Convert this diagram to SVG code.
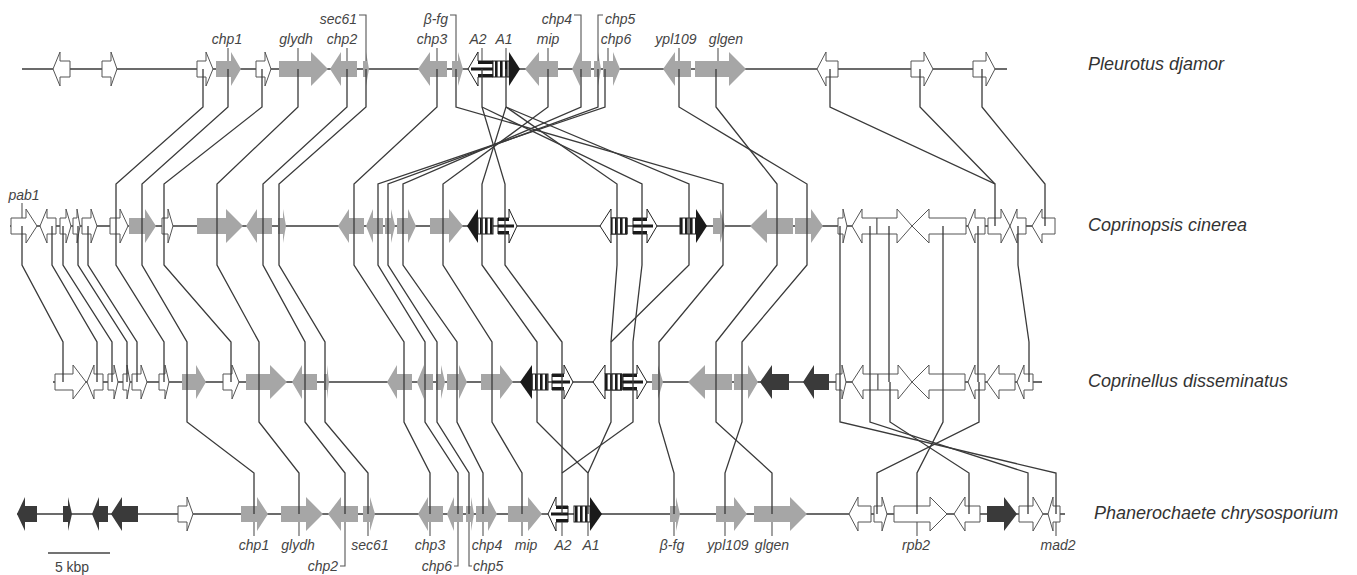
<svg xmlns="http://www.w3.org/2000/svg" width="1357" height="575" viewBox="0 0 1357 575">
<style>
.w{fill:#fff;stroke:#555;stroke-width:1}
.g{fill:#a6a6a6}
.d{fill:#3a3a3a}
.k{fill:#1a1a1a}
.aw{fill:#fff;stroke:#222;stroke-width:1}
.av{fill:url(#vs);stroke:#222;stroke-width:1}
.bb{stroke:#3a3a3a;stroke-width:1.6;fill:none}
.cn{fill:none;stroke:#3a3a3a;stroke-width:1.3}
.tk{fill:none;stroke:#555;stroke-width:1.1}
.lb{font-family:"Liberation Sans",Arial,sans-serif;font-style:italic;font-size:14px;fill:#444}
.sp{font-family:"Liberation Sans",Arial,sans-serif;font-style:italic;font-size:18px;fill:#333}
.sc{font-family:"Liberation Sans",Arial,sans-serif;font-size:14px;fill:#444}
</style>
<defs>
<pattern id="vs" width="5" height="20" patternUnits="userSpaceOnUse"><rect width="5" height="20" fill="#fff"/><rect width="2.6" height="20" fill="#1a1a1a"/></pattern>
</defs>
<rect width="1357" height="575" fill="#fff"/>

<g id="backbones">
<line class="bb" x1="22" y1="69" x2="1007" y2="69"/>
<line class="bb" x1="10" y1="226" x2="1055" y2="226"/>
<line class="bb" x1="53" y1="382" x2="1042" y2="382"/>
<line class="bb" x1="17" y1="514" x2="1065" y2="514"/>
</g>

<g id="row1-pleurotus">
<g id="r1-w1"><path class="w" d="M70 61 h-10 v-9 l-7 17 l7 17 v-9 h10 z"/></g>
<g id="r1-w2"><path class="w" d="M102 61 h9 v-9 l6 17 l-6 17 v-9 h-9 z"/></g>
<g id="r1-w3"><path class="w" d="M197 61 h9 v-9 l7 17 l-7 17 v-9 h-9 z"/></g>
<g id="r1-chp1"><path class="g" d="M216 61 h15 v-9 l10 17 l-10 17 v-9 h-15 z"/></g>
<g id="r1-w4"><path class="w" d="M256 61 h9 v-9 l6 17 l-6 17 v-9 h-9 z"/></g>
<g id="r1-glydh"><path class="g" d="M279 61 h32 v-9 l17 17 l-17 17 v-9 h-32 z"/></g>
<g id="r1-chp2"><path class="g" d="M357 61 h-16 v-9 l-11 17 l11 17 v-9 h16 z"/></g>
<g id="r1-sec61"><path class="g" d="M363 61 h3 v-9 l3 17 l-3 17 v-9 h-3 z"/></g>
<g id="r1-chp3"><path class="g" d="M447 61 h-17 v-9 l-12 17 l12 17 v-9 h17 z"/></g>
<g id="r1-bfg"><path class="g" d="M452 61 h6 v-9 l5 17 l-5 17 v-9 h-6 z"/></g>
<g id="r1-A2"><path class="aw" d="M493 61 h-15 v-9 l-10 17 l10 17 v-9 h15 z"/><rect class="k" x="478" y="61" width="15" height="3"/><rect class="k" x="471" y="67.5" width="22" height="3"/><rect class="k" x="478" y="74" width="15" height="3"/></g>
<g id="r1-A1"><rect class="av" x="493" y="61" width="16" height="16"/><path class="k" d="M509 52 l11 17 l-11 17 z"/></g>
<g id="r1-mip"><path class="g" d="M558 61 h-19 v-9 l-14 17 l14 17 v-9 h19 z"/></g>
<g id="r1-chp4"><path class="g" d="M591 61 h-11 v-9 l-8 17 l8 17 v-9 h11 z"/></g>
<g id="r1-chp5"><path class="g" d="M594 61 h4 v-9 l3 17 l-3 17 v-9 h-4 z"/></g>
<g id="r1-chp6"><path class="g" d="M603 61 h10 v-9 l7 17 l-7 17 v-9 h-10 z"/></g>
<g id="r1-ypl109"><path class="g" d="M691 61 h-16 v-9 l-12 17 l12 17 v-9 h16 z"/></g>
<g id="r1-glgen"><path class="g" d="M695 61 h34 v-9 l17 17 l-17 17 v-9 h-34 z"/></g>
<g id="r1-w5"><path class="w" d="M838 61 h-12 v-9 l-9 17 l9 17 v-9 h12 z"/></g>
<g id="r1-w6"><path class="w" d="M911 61 h13 v-9 l9 17 l-9 17 v-9 h-13 z"/></g>
<g id="r1-w7"><path class="w" d="M973 61 h13 v-9 l9 17 l-9 17 v-9 h-13 z"/></g>
</g>

<g id="row2-coprinopsis">
<g id="r2-pab1"><path class="w" d="M11 218 h15 v-9 l11 17 l-11 17 v-9 h-15 z"/></g>
<g id="r2-w2"><path class="w" d="M56 218 h-9 v-9 l-7 17 l7 17 v-9 h9 z"/></g>
<g id="r2-w3"><path class="w" d="M60 218 h6 v-9 l5 17 l-5 17 v-9 h-6 z"/></g>
<g id="r2-w4"><path class="w" d="M73 218 h4 v-9 l3 17 l-3 17 v-9 h-4 z"/></g>
<g id="r2-w5"><path class="w" d="M82 218 h9 v-9 l6 17 l-6 17 v-9 h-9 z"/></g>
<g id="r2-w6"><path class="w" d="M110 218 h10 v-9 l8 17 l-8 17 v-9 h-10 z"/></g>
<g id="r2-chp1"><path class="g" d="M129 218 h16 v-9 l11 17 l-11 17 v-9 h-16 z"/></g>
<g id="r2-w7"><path class="w" d="M162 218 h6 v-9 l5 17 l-5 17 v-9 h-6 z"/></g>
<g id="r2-glydh"><path class="g" d="M197 218 h29 v-9 l17 17 l-17 17 v-9 h-29 z"/></g>
<g id="r2-chp2"><path class="g" d="M272 218 h-15 v-9 l-11 17 l11 17 v-9 h15 z"/></g>
<g id="r2-sec61"><path class="g" d="M278 218 h5 v-9 l3 17 l-3 17 v-9 h-5 z"/></g>
<g id="r2-chp3"><path class="g" d="M364 218 h-15 v-9 l-11 17 l11 17 v-9 h15 z"/></g>
<g id="r2-chp6"><path class="g" d="M383 218 h-10 v-9 l-7 17 l7 17 v-9 h10 z"/></g>
<g id="r2-chp5"><path class="g" d="M385 218 h6 v-9 l4 17 l-4 17 v-9 h-6 z"/></g>
<g id="r2-chp4"><path class="g" d="M397 218 h11 v-9 l8 17 l-8 17 v-9 h-11 z"/></g>
<g id="r2-mip"><path class="g" d="M430 218 h19 v-9 l14 17 l-14 17 v-9 h-19 z"/></g>
<g id="r2-A1a"><path class="k" d="M478 209 l-11 17 l11 17 z"/><rect class="av" x="478" y="218" width="15" height="16"/></g>
<g id="r2-A2a"><path class="aw" d="M498 218 h11 v-9 l8 17 l-8 17 v-9 h-11 z"/><rect class="k" x="498" y="218" width="11" height="3"/><rect class="k" x="498" y="224.5" width="16" height="3"/><rect class="k" x="498" y="231" width="11" height="3"/></g>
<g id="r2-A1b"><path class="aw" d="M627 218 h-16 v-9 l-11 17 l11 17 v-9 h16 z"/><rect class="av" x="611" y="218" width="16" height="16"/></g>
<g id="r2-A2b"><path class="aw" d="M633 218 h14 v-9 l10 17 l-10 17 v-9 h-14 z"/><rect class="k" x="633" y="218" width="14" height="3"/><rect class="k" x="633" y="224.5" width="20" height="3"/><rect class="k" x="633" y="231" width="14" height="3"/></g>
<g id="r2-A1c"><rect class="av" x="680" y="218" width="16" height="16"/><path class="k" d="M696 209 l11 17 l-11 17 z"/></g>
<g id="r2-bfg"><path class="g" d="M713 218 h7 v-9 l5 17 l-5 17 v-9 h-7 z"/></g>
<g id="r2-glgen"><path class="g" d="M793 218 h-26 v-9 l-17 17 l17 17 v-9 h26 z"/></g>
<g id="r2-ypl109"><path class="g" d="M795 218 h16 v-9 l12 17 l-12 17 v-9 h-16 z"/></g>
<g id="r2-w8"><path class="w" d="M838 218 h5 v-9 l4 17 l-4 17 v-9 h-5 z"/></g>
<g id="r2-w9"><path class="w" d="M877 218 h-15 v-9 l-10 17 l10 17 v-9 h15 z"/></g>
<g id="r2-w10"><path class="w" d="M877 218 h20 v-9 l15 17 l-15 17 v-9 h-20 z"/></g>
<g id="r2-w11"><path class="w" d="M966 218 h-37 v-9 l-17 17 l17 17 v-9 h37 z"/></g>
<g id="r2-w12"><path class="w" d="M985 218 h-10 v-9 l-7 17 l7 17 v-9 h10 z"/></g>
<g id="r2-w13"><path class="w" d="M988 218 h13 v-9 l9 17 l-9 17 v-9 h-13 z"/></g>
<g id="r2-w14"><path class="w" d="M1026 218 h-9 v-9 l-7 17 l7 17 v-9 h9 z"/></g>
<g id="r2-w15"><path class="w" d="M1055 218 h-13 v-9 l-10 17 l10 17 v-9 h13 z"/></g>
</g>

<g id="row3-coprinellus">
<g id="r3-w1"><path class="w" d="M55 374 h18 v-9 l13 17 l-13 17 v-9 h-18 z"/></g>
<g id="r3-w2"><path class="w" d="M103 374 h-9 v-9 l-7 17 l7 17 v-9 h9 z"/></g>
<g id="r3-w3"><path class="w" d="M108 374 h6 v-9 l4 17 l-4 17 v-9 h-6 z"/></g>
<g id="r3-w4"><path class="w" d="M123 374 h4 v-9 l3 17 l-3 17 v-9 h-4 z"/></g>
<g id="r3-w5"><path class="w" d="M132 374 h9 v-9 l6 17 l-6 17 v-9 h-9 z"/></g>
<g id="r3-w6"><path class="w" d="M159 374 h6 v-9 l4 17 l-4 17 v-9 h-6 z"/></g>
<g id="r3-chp1"><path class="g" d="M182 374 h14 v-9 l10 17 l-10 17 v-9 h-14 z"/></g>
<g id="r3-w7"><path class="w" d="M223 374 h9 v-9 l7 17 l-7 17 v-9 h-9 z"/></g>
<g id="r3-glydh"><path class="g" d="M246 374 h24 v-9 l17 17 l-17 17 v-9 h-24 z"/></g>
<g id="r3-chp2"><path class="g" d="M317 374 h-15 v-9 l-10 17 l10 17 v-9 h15 z"/></g>
<g id="r3-sec61"><path class="g" d="M324 374 h3 v-9 l2 17 l-2 17 v-9 h-3 z"/></g>
<g id="r3-chp3"><path class="g" d="M412 374 h-15 v-9 l-10 17 l10 17 v-9 h15 z"/></g>
<g id="r3-chp6"><path class="g" d="M433 374 h-9 v-9 l-7 17 l7 17 v-9 h9 z"/></g>
<g id="r3-chp5"><path class="g" d="M436 374 h5 v-9 l4 17 l-4 17 v-9 h-5 z"/></g>
<g id="r3-chp4"><path class="g" d="M447 374 h12 v-9 l8 17 l-8 17 v-9 h-12 z"/></g>
<g id="r3-mip"><path class="g" d="M481 374 h19 v-9 l13 17 l-13 17 v-9 h-19 z"/></g>
<g id="r3-A1a"><path class="k" d="M532 365 l-12 17 l12 17 z"/><rect class="av" x="532" y="374" width="16" height="16"/></g>
<g id="r3-A2a"><path class="aw" d="M552 374 h12 v-9 l9 17 l-9 17 v-9 h-12 z"/><rect class="k" x="552" y="374" width="12" height="3"/><rect class="k" x="552" y="380.5" width="18" height="3"/><rect class="k" x="552" y="387" width="12" height="3"/></g>
<g id="r3-A1b"><path class="aw" d="M622 374 h-17 v-9 l-12 17 l12 17 v-9 h17 z"/><rect class="av" x="605" y="374" width="17" height="16"/></g>
<g id="r3-A2b"><path class="aw" d="M623 374 h14 v-9 l10 17 l-10 17 v-9 h-14 z"/><rect class="k" x="623" y="374" width="14" height="3"/><rect class="k" x="623" y="380.5" width="20" height="3"/><rect class="k" x="623" y="387" width="14" height="3"/></g>
<g id="r3-bfg"><path class="g" d="M652 374 h6 v-9 l5 17 l-5 17 v-9 h-6 z"/></g>
<g id="r3-glgen"><path class="g" d="M732 374 h-27 v-9 l-17 17 l17 17 v-9 h27 z"/></g>
<g id="r3-ypl109"><path class="g" d="M734 374 h14 v-9 l10 17 l-10 17 v-9 h-14 z"/></g>
<g id="r3-d1"><path class="d" d="M789 374 h-17 v-9 l-12 17 l12 17 v-9 h17 z"/></g>
<g id="r3-d2"><path class="d" d="M829 374 h-15 v-9 l-11 17 l11 17 v-9 h15 z"/></g>
<g id="r3-w8"><path class="w" d="M836 374 h6 v-9 l4 17 l-4 17 v-9 h-6 z"/></g>
<g id="r3-w9"><path class="w" d="M878 374 h-15 v-9 l-11 17 l11 17 v-9 h15 z"/></g>
<g id="r3-w10"><path class="w" d="M878 374 h20 v-9 l14 17 l-14 17 v-9 h-20 z"/></g>
<g id="r3-w11"><path class="w" d="M965 374 h-36 v-9 l-17 17 l17 17 v-9 h36 z"/></g>
<g id="r3-w12"><path class="w" d="M985 374 h-10 v-9 l-7 17 l7 17 v-9 h10 z"/></g>
<g id="r3-w13"><path class="w" d="M1015 374 h-16 v-9 l-12 17 l12 17 v-9 h16 z"/></g>
<g id="r3-w14"><path class="w" d="M1033 374 h-9 v-9 l-7 17 l7 17 v-9 h9 z"/></g>
</g>

<g id="row4-phanerochaete">
<g id="r4-d1"><path class="d" d="M37 506 h-12 v-9 l-8 17 l8 17 v-9 h12 z"/></g>
<g id="r4-d2"><path class="d" d="M63 506 h5 v-9 l4 17 l-4 17 v-9 h-5 z"/></g>
<g id="r4-d3"><path class="d" d="M108 506 h-9 v-9 l-7 17 l7 17 v-9 h9 z"/></g>
<g id="r4-d4"><path class="d" d="M138 506 h-16 v-9 l-11 17 l11 17 v-9 h16 z"/></g>
<g id="r4-w1"><path class="w" d="M178 506 h9 v-9 l6 17 l-6 17 v-9 h-9 z"/></g>
<g id="r4-chp1"><path class="g" d="M241 506 h16 v-9 l11 17 l-11 17 v-9 h-16 z"/></g>
<g id="r4-glydh"><path class="g" d="M281 506 h25 v-9 l17 17 l-17 17 v-9 h-25 z"/></g>
<g id="r4-chp2"><path class="g" d="M358 506 h-17 v-9 l-13 17 l13 17 v-9 h17 z"/></g>
<g id="r4-sec61"><path class="g" d="M363 506 h7 v-9 l5 17 l-5 17 v-9 h-7 z"/></g>
<g id="r4-chp3"><path class="g" d="M443 506 h-15 v-9 l-10 17 l10 17 v-9 h15 z"/></g>
<g id="r4-chp6"><path class="g" d="M463 506 h-9 v-9 l-7 17 l7 17 v-9 h9 z"/></g>
<g id="r4-chp5"><path class="g" d="M466 506 h5 v-9 l3 17 l-3 17 v-9 h-5 z"/></g>
<g id="r4-chp4"><path class="g" d="M476 506 h12 v-9 l9 17 l-9 17 v-9 h-12 z"/></g>
<g id="r4-mip"><path class="g" d="M508 506 h20 v-9 l14 17 l-14 17 v-9 h-20 z"/></g>
<g id="r4-A2"><path class="aw" d="M568 506 h-12 v-9 l-8 17 l8 17 v-9 h12 z"/><rect class="k" x="556" y="506" width="12" height="3"/><rect class="k" x="551" y="512.5" width="17" height="3"/><rect class="k" x="556" y="519" width="12" height="3"/></g>
<g id="r4-A1"><rect class="av" x="574" y="506" width="16" height="16"/><path class="k" d="M590 497 l12 17 l-12 17 z"/></g>
<g id="r4-bfg"><path class="g" d="M670 506 h6 v-9 l4 17 l-4 17 v-9 h-6 z"/></g>
<g id="r4-ypl109"><path class="g" d="M716 506 h18 v-9 l13 17 l-13 17 v-9 h-18 z"/></g>
<g id="r4-glgen"><path class="g" d="M754 506 h36 v-9 l17 17 l-17 17 v-9 h-36 z"/></g>
<g id="r4-w2"><path class="w" d="M871 506 h-13 v-9 l-9 17 l9 17 v-9 h13 z"/></g>
<g id="r4-w3"><path class="w" d="M874 506 h8 v-9 l5 17 l-5 17 v-9 h-8 z"/></g>
<g id="r4-rpb2"><path class="w" d="M894 506 h36 v-9 l17 17 l-17 17 v-9 h-36 z"/></g>
<g id="r4-w4"><path class="w" d="M980 506 h-15 v-9 l-11 17 l11 17 v-9 h15 z"/></g>
<g id="r4-d5"><path class="d" d="M987 506 h17 v-9 l13 17 l-13 17 v-9 h-17 z"/></g>
<g id="r4-w5"><path class="w" d="M1019 506 h14 v-9 l10 17 l-10 17 v-9 h-14 z"/></g>
<g id="r4-mad2"><path class="w" d="M1060 506 h-7 v-9 l-5 17 l5 17 v-9 h7 z"/></g>
</g>

<g id="connectors">
<polyline class="cn" points="203,69 203,107 116,184 116,226"/>
<polyline class="cn" points="228,69 228,107 142,184 142,226"/>
<polyline class="cn" points="262,69 262,107 164,184 164,226"/>
<polyline class="cn" points="298,69 298,107 217,184 217,226"/>
<polyline class="cn" points="347,69 347,107 263,184 263,226"/>
<polyline class="cn" points="366,69 366,107 279,184 279,226"/>
<polyline class="cn" points="437,69 437,107 354,184 354,226"/>
<polyline class="cn" points="456,69 456,107 723,184 723,226"/>
<polyline class="cn" points="482,69 482,107 505,184 505,226"/>
<polyline class="cn" points="482,107 642,184 642,226"/>
<polyline class="cn" points="506,69 506,107 482,184 482,226"/>
<polyline class="cn" points="506,107 617,184 617,226"/>
<polyline class="cn" points="506,107 689,184 689,226"/>
<polyline class="cn" points="548,69 548,107 443,184 443,226"/>
<polyline class="cn" points="581,69 581,107 403,184 403,226"/>
<polyline class="cn" points="598,69 598,107 388,184 388,226"/>
<polyline class="cn" points="605,69 605,107 378,184 378,226"/>
<polyline class="cn" points="679,69 679,107 807,184 807,226"/>
<polyline class="cn" points="716,69 716,107 777,184 777,226"/>
<polyline class="cn" points="830,69 830,107 995,184 995,226"/>
<polyline class="cn" points="920,69 920,107 995,184"/>
<polyline class="cn" points="982,69 982,107 1045,184 1045,226"/>

<polyline class="cn" points="22,226 22,265 63,342 63,382"/>
<polyline class="cn" points="52,226 52,265 97,342 97,382"/>
<polyline class="cn" points="63,226 63,265 112,342 112,382"/>
<polyline class="cn" points="78,226 78,265 127,342 127,382"/>
<polyline class="cn" points="88,226 88,265 137,342 137,382"/>
<polyline class="cn" points="116,226 116,265 164,342 164,382"/>
<polyline class="cn" points="142,226 142,265 187,342 187,382"/>
<polyline class="cn" points="164,226 164,265 231,342 231,382"/>
<polyline class="cn" points="217,226 217,265 259,342 259,382"/>
<polyline class="cn" points="263,226 263,265 305,342 305,382"/>
<polyline class="cn" points="279,226 279,265 325,342 325,382"/>
<polyline class="cn" points="354,226 354,265 404,342 404,382"/>
<polyline class="cn" points="378,226 378,265 425,342 425,382"/>
<polyline class="cn" points="388,226 388,265 437,342 437,382"/>
<polyline class="cn" points="403,226 403,265 457,342 457,382"/>
<polyline class="cn" points="443,226 443,265 492,342 492,382"/>
<polyline class="cn" points="482,226 482,265 537,342 537,382"/>
<polyline class="cn" points="505,226 505,265 562,342 562,382"/>
<polyline class="cn" points="617,226 617,265 611,342 611,382"/>
<polyline class="cn" points="642,226 642,265 633,342 633,382"/>
<polyline class="cn" points="689,226 689,265 611,342"/>
<polyline class="cn" points="723,226 723,265 659,342 659,382"/>
<polyline class="cn" points="777,226 777,265 716,342 716,382"/>
<polyline class="cn" points="807,226 807,265 742,342 742,382"/>
<polyline class="cn" points="840,226 840,382"/>
<polyline class="cn" points="870,226 870,382"/>
<polyline class="cn" points="889,226 889,382"/>
<polyline class="cn" points="943,226 943,382"/>
<polyline class="cn" points="978,226 978,382"/>
<polyline class="cn" points="1018,226 1018,265 1029,342 1029,382"/>

<polyline class="cn" points="187,382 187,422 254,473 254,514"/>
<polyline class="cn" points="259,382 259,422 299,473 299,514"/>
<polyline class="cn" points="305,382 305,422 345,473 345,514"/>
<polyline class="cn" points="325,382 325,422 368,473 368,514"/>
<polyline class="cn" points="404,382 404,422 430,473 430,514"/>
<polyline class="cn" points="425,382 425,422 458,473 458,514"/>
<polyline class="cn" points="437,382 437,422 469,473 469,514"/>
<polyline class="cn" points="457,382 457,422 483,473 483,514"/>
<polyline class="cn" points="492,382 492,422 522,473 522,514"/>
<polyline class="cn" points="537,382 537,422 588,473 588,514"/>
<polyline class="cn" points="562,382 562,514"/>
<polyline class="cn" points="611,382 611,422 588,473"/>
<polyline class="cn" points="633,382 633,422 562,473"/>
<polyline class="cn" points="659,382 659,422 674,473 674,514"/>
<polyline class="cn" points="716,382 716,422 772,473 772,514"/>
<polyline class="cn" points="742,382 742,422 725,473 725,514"/>
<polyline class="cn" points="840,382 840,422 1056,473 1056,514"/>
<polyline class="cn" points="870,382 870,422 1028,473 1028,514"/>
<polyline class="cn" points="890,382 890,422 969,473 969,514"/>
<polyline class="cn" points="943,382 943,422 917,473 917,514"/>
<polyline class="cn" points="979,382 979,422 877,473 877,514"/>
</g>

<g id="label-ticks">
<line class="tk" x1="228" y1="48" x2="228" y2="61"/>
<line class="tk" x1="298" y1="48" x2="298" y2="61"/>
<line class="tk" x1="347" y1="48" x2="347" y2="61"/>
<line class="tk" x1="437" y1="48" x2="437" y2="61"/>
<line class="tk" x1="482" y1="48" x2="482" y2="61"/>
<line class="tk" x1="506" y1="48" x2="506" y2="61"/>
<line class="tk" x1="548" y1="48" x2="548" y2="61"/>
<line class="tk" x1="608" y1="48" x2="608" y2="61"/>
<line class="tk" x1="679" y1="48" x2="679" y2="61"/>
<line class="tk" x1="718" y1="48" x2="718" y2="61"/>
<polyline class="tk" points="359,15 366,15 366,61"/>
<polyline class="tk" points="450,15 456,15 456,61"/>
<polyline class="tk" points="574,15 581,15 581,61"/>
<polyline class="tk" points="603,15 598,15 598,61"/>
<line class="tk" x1="22" y1="203" x2="22" y2="218"/>
<line class="tk" x1="254" y1="522" x2="254" y2="536"/>
<line class="tk" x1="299" y1="522" x2="299" y2="536"/>
<line class="tk" x1="368" y1="522" x2="368" y2="536"/>
<line class="tk" x1="430" y1="522" x2="430" y2="536"/>
<line class="tk" x1="483" y1="522" x2="483" y2="536"/>
<line class="tk" x1="522" y1="522" x2="522" y2="536"/>
<line class="tk" x1="562" y1="522" x2="562" y2="536"/>
<line class="tk" x1="588" y1="522" x2="588" y2="536"/>
<line class="tk" x1="674" y1="522" x2="674" y2="536"/>
<line class="tk" x1="725" y1="522" x2="725" y2="536"/>
<line class="tk" x1="772" y1="522" x2="772" y2="536"/>
<line class="tk" x1="917" y1="522" x2="917" y2="536"/>
<line class="tk" x1="1056" y1="522" x2="1056" y2="536"/>
<polyline class="tk" points="345,522 345,566 340,566"/>
<polyline class="tk" points="458,522 458,566 454,566"/>
<polyline class="tk" points="469,522 469,566 472,566"/>
</g>

<g id="gene-labels">
<text class="lb" x="227" y="44" text-anchor="middle">chp1</text>
<text class="lb" x="296" y="44" text-anchor="middle">glydh</text>
<text class="lb" x="342" y="44" text-anchor="middle">chp2</text>
<text class="lb" x="432" y="44" text-anchor="middle">chp3</text>
<text class="lb" x="478" y="44" text-anchor="middle">A2</text>
<text class="lb" x="504" y="44" text-anchor="middle">A1</text>
<text class="lb" x="548" y="44" text-anchor="middle">mip</text>
<text class="lb" x="616" y="44" text-anchor="middle">chp6</text>
<text class="lb" x="676" y="44" text-anchor="middle">ypl109</text>
<text class="lb" x="726" y="44" text-anchor="middle">glgen</text>
<text class="lb" x="357" y="24" text-anchor="end">sec61</text>
<text class="lb" x="448" y="24" text-anchor="end">β-fg</text>
<text class="lb" x="572" y="24" text-anchor="end">chp4</text>
<text class="lb" x="605" y="24">chp5</text>
<text class="lb" x="24" y="200" text-anchor="middle">pab1</text>
<text class="lb" x="254" y="550" text-anchor="middle">chp1</text>
<text class="lb" x="298" y="550" text-anchor="middle">glydh</text>
<text class="lb" x="370" y="550" text-anchor="middle">sec61</text>
<text class="lb" x="430" y="550" text-anchor="middle">chp3</text>
<text class="lb" x="487" y="550" text-anchor="middle">chp4</text>
<text class="lb" x="526" y="550" text-anchor="middle">mip</text>
<text class="lb" x="563" y="550" text-anchor="middle">A2</text>
<text class="lb" x="591" y="550" text-anchor="middle">A1</text>
<text class="lb" x="672" y="550" text-anchor="middle">β-fg</text>
<text class="lb" x="728" y="550" text-anchor="middle">ypl109</text>
<text class="lb" x="772" y="550" text-anchor="middle">glgen</text>
<text class="lb" x="916" y="550" text-anchor="middle">rpb2</text>
<text class="lb" x="1058" y="550" text-anchor="middle">mad2</text>
<text class="lb" x="338" y="571" text-anchor="end">chp2</text>
<text class="lb" x="452" y="571" text-anchor="end">chp6</text>
<text class="lb" x="473" y="571">chp5</text>
</g>

<g id="species-labels">
<text class="sp" x="1088" y="70">Pleurotus djamor</text>
<text class="sp" x="1088" y="231">Coprinopsis cinerea</text>
<text class="sp" x="1088" y="387">Coprinellus disseminatus</text>
<text class="sp" x="1094" y="519">Phanerochaete chrysosporium</text>
</g>

<g id="scale-bar">
<line x1="48" y1="553" x2="110" y2="553" stroke="#444" stroke-width="1.6"/>
<text class="sc" x="72" y="572" text-anchor="middle">5 kbp</text>
</g>
</svg>
